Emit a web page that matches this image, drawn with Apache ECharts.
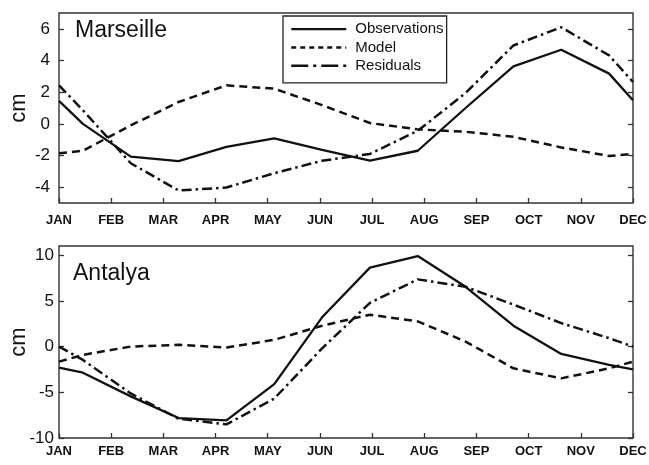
<!DOCTYPE html>
<html>
<head>
<meta charset="utf-8">
<script src="https://cdn.jsdelivr.net/npm/echarts@6/dist/echarts.min.js"></script>
<style>
html,body{margin:0;padding:0;background:#fff;}
#chart{width:649px;height:465px;}
</style>
</head>
<body>
<div id="chart"></div>
<script>
// ---- data ----
var months = ['JAN','FEB','MAR','APR','MAY','JUN','JUL','AUG','SEP','OCT','NOV','DEC'];
// sample positions in month units (edges + mid-month points)
var xPos = [0, 0.5, 1.5, 2.5, 3.5, 4.5, 5.5, 6.5, 7.5, 8.5, 9.5, 10.5, 11.5, 12];

var marseilleObs   = [1.45, 0.0, -2.07, -2.35, -1.45, -0.92, -1.65, -2.33, -1.70, 1.0, 3.63, 4.68, 3.17, 1.49];
var marseilleModel = [-1.86, -1.7, -0.1, 1.38, 2.43, 2.22, 1.18, 0.05, -0.35, -0.5, -0.82, -1.49, -2.03, -1.9];
var marseilleRes   = [2.43, 0.86, -2.49, -4.21, -4.02, -3.12, -2.33, -1.9, -0.44, 1.95, 4.95, 6.1, 4.32, 2.64];

var antalyaObs   = [-2.31, -2.86, -5.45, -7.82, -8.07, -4.1, 3.2, 8.63, 9.9, 6.54, 2.28, -0.8, -2.0, -2.49];
var antalyaModel = [-1.65, -0.91, 0.0, 0.19, -0.11, 0.74, 2.28, 3.49, 2.75, 0.55, -2.38, -3.48, -2.38, -1.65];
var antalyaRes   = [0.0, -1.46, -5.13, -7.89, -8.51, -5.69, -0.2, 4.78, 7.35, 6.54, 4.59, 2.57, 0.92, 0.0];

var topTicks = [-4, -2, 0, 2, 4, 6];
var bottomTicks = [-10, -5, 0, 5, 10];
var seriesNames = ['Observations', 'Model', 'Residuals'];

// ---- build ----
var FONT = "'Liberation Sans', Arial, Helvetica, sans-serif";
var INK = '#111';
var monthStep = 12 / (months.length - 1);
var xTickVals = months.map(function (m, i) { return i * monthStep; });

function pairs(vals) { return vals.map(function (v, i) { return [xPos[i], v]; }); }

var styles = {
  'Observations': { type: 'solid', width: 2.3 },
  'Model': { type: [8, 5], width: 2.5 },
  'Residuals': { type: [10, 4, 2.5, 4], width: 2.5 }
};

function mkSeries(name, vals, xi, yi) {
  return {
    name: name, type: 'line', data: pairs(vals),
    xAxisIndex: xi, yAxisIndex: yi,
    symbol: 'none', showSymbol: false, smooth: false, animation: false,
    lineStyle: { color: INK, width: styles[name].width, type: styles[name].type },
    itemStyle: { color: INK }
  };
}

function xAxisFor(gi, margin) {
  return {
    type: 'value', gridIndex: gi, min: 0, max: 12, position: 'bottom',
    axisLine: { show: false, onZero: false },
    splitLine: { show: false },
    axisTick: { show: true, inside: true, length: 5, customValues: xTickVals, lineStyle: { color: '#333', width: 1.3 } },
    axisLabel: {
      customValues: xTickVals, margin: margin,
      fontFamily: FONT, fontSize: 13, fontWeight: 'bold', color: INK,
      formatter: function (v) { return months[Math.round(v / monthStep)]; }
    }
  };
}

function yAxisFor(gi, min, max, ticks, side, margin) {
  var left = side === 'left';
  return {
    type: 'value', gridIndex: gi, min: min, max: max, position: side,
    name: left ? 'cm' : '', nameLocation: 'middle', nameGap: 29, nameRotate: 90,
    nameMoveOverlap: false,
    nameTextStyle: { fontFamily: FONT, fontSize: 22, color: INK },
    axisLine: { show: false, onZero: false },
    splitLine: { show: false },
    axisTick: { show: true, inside: true, length: 5, customValues: ticks, lineStyle: { color: '#333', width: 1.3 } },
    axisLabel: {
      show: left, customValues: ticks, margin: margin,
      fontFamily: FONT, fontSize: 17, color: INK
    }
  };
}

var chart = echarts.init(document.getElementById('chart'), null, { renderer: 'canvas' });
chart.setOption({
  animation: false,
  backgroundColor: '#fff',
  title: [
    { text: 'Marseille', left: 75, top: 19, padding: 0, textStyle: { fontFamily: FONT, fontSize: 23, fontWeight: 'normal', color: INK } },
    { text: 'Antalya', left: 73, top: 262, padding: 0, textStyle: { fontFamily: FONT, fontSize: 23, fontWeight: 'normal', color: INK } }
  ],
  legend: {
    orient: 'vertical', left: 283, top: 16,
    padding: [4, 3, 8, 7],
    borderColor: '#222', borderWidth: 1.3,
    itemWidth: 55, itemHeight: 14, itemGap: 0,
    itemStyle: { color: 'transparent', borderColor: 'transparent', borderWidth: 0, opacity: 0 },
    textStyle: { fontFamily: FONT, fontSize: 15, color: INK, lineHeight: 18.3, padding: [0, 0, 0, 4] },
    data: [
      { name: 'Observations', lineStyle: { type: 'solid', width: 2.3, color: INK } },
      { name: 'Model', lineStyle: { type: [5, 4], width: 2.5, color: INK } },
      { name: 'Residuals', lineStyle: { type: [17, 5, 3, 5], width: 2.5, color: INK } }
    ],
    selectedMode: false
  },
  grid: [
    { left: 59, top: 13, width: 574, height: 190, show: true, borderColor: '#333', borderWidth: 1.4, backgroundColor: 'transparent', containLabel: false, outerBoundsMode: 'none' },
    { left: 59, top: 246, width: 574, height: 192, show: true, borderColor: '#333', borderWidth: 1.4, backgroundColor: 'transparent', containLabel: false, outerBoundsMode: 'none' }
  ],
  xAxis: [xAxisFor(0, 11), xAxisFor(1, 7)],
  yAxis: [
    yAxisFor(0, -5, 7, topTicks, 'left', 9),
    yAxisFor(0, -5, 7, topTicks, 'right', 8),
    yAxisFor(1, -10, 11, bottomTicks, 'left', 5),
    yAxisFor(1, -10, 11, bottomTicks, 'right', 8)
  ],
  series: [
    mkSeries(seriesNames[0], marseilleObs, 0, 0),
    mkSeries(seriesNames[1], marseilleModel, 0, 0),
    mkSeries(seriesNames[2], marseilleRes, 0, 0),
    mkSeries(seriesNames[0], antalyaObs, 1, 2),
    mkSeries(seriesNames[1], antalyaModel, 1, 2),
    mkSeries(seriesNames[2], antalyaRes, 1, 2)
  ]
});
</script>
</body>
</html>
